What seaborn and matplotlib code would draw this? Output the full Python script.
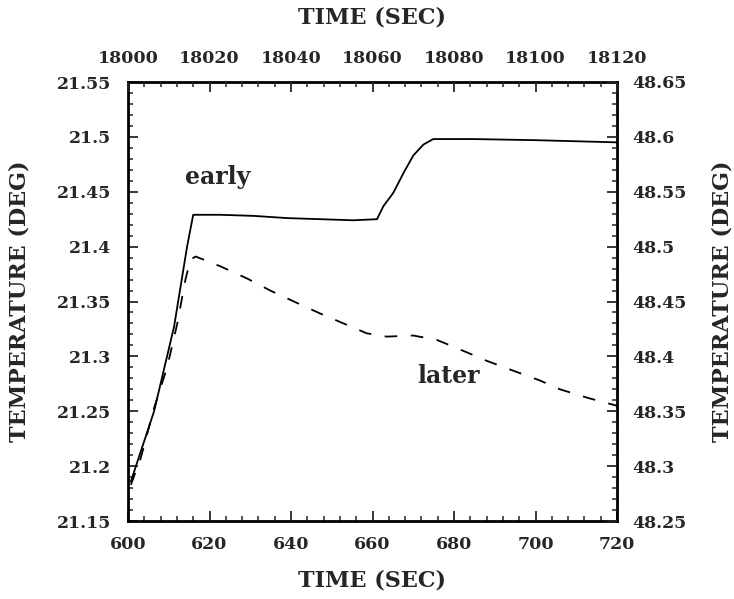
import matplotlib
matplotlib.use("Agg")
import matplotlib.pyplot as plt
import seaborn as sns
import pandas as pd
from matplotlib.ticker import MultipleLocator, FixedLocator, FixedFormatter

# ---- data ----
early_time = [600.7, 606.4, 611.3, 614.5, 616.0, 622.7, 630.9, 639.0, 647.2, 655.3,
              661.1, 662.7, 665.1, 667.6, 670.0, 672.5, 674.9, 685.0, 700.0, 710.0, 720.0]
early_temp = [21.186, 21.250, 21.327, 21.400, 21.429, 21.429, 21.428, 21.426, 21.425, 21.424,
              21.425, 21.437, 21.449, 21.467, 21.483, 21.493, 21.498, 21.498, 21.497, 21.496, 21.495]

later_time = [18000.7, 18003.1, 18006.4, 18009.6, 18012.1, 18014.1, 18015.3, 18016.6, 18022.7,
              18029.2, 18034.9, 18040.7, 18047.2, 18052.9, 18058.6, 18063.5, 18070.0, 18075.8,
              18082.3, 18088.0, 18094.5, 18101.1, 18106.0, 18113.0, 18120.0]
later_temp = [48.283, 48.307, 48.353, 48.390, 48.430, 48.470, 48.488, 48.491, 48.482,
              48.471, 48.460, 48.450, 48.439, 48.430, 48.421, 48.418, 48.419, 48.415,
              48.405, 48.396, 48.387, 48.378, 48.370, 48.362, 48.355]

bottom_ticks = [600, 620, 640, 660, 680, 700, 720]
top_ticks = [18000, 18020, 18040, 18060, 18080, 18100, 18120]
left_ticks = [21.15, 21.2, 21.25, 21.3, 21.35, 21.4, 21.45, 21.5, 21.55]
left_labels = ["21.15", "21.2", "21.25", "21.3", "21.35", "21.4", "21.45", "21.5", "21.55"]
right_ticks = [48.25, 48.3, 48.35, 48.4, 48.45, 48.5, 48.55, 48.6, 48.65]
right_labels = ["48.25", "48.3", "48.35", "48.4", "48.45", "48.5", "48.55", "48.6", "48.65"]

sns.set_theme(style="ticks")
plt.rcParams["font.family"] = ["DejaVu Serif", "Liberation Serif"]
plt.rcParams["font.weight"] = "bold"

W, H = 734, 599
fig = plt.figure(figsize=(W / 100, H / 100), dpi=100)
L, R, T, B = 128, 617, 82, 521
ax = fig.add_axes([L / W, 1 - B / H, (R - L) / W, (B - T) / H])

df_e = pd.DataFrame({"t": early_time, "T": early_temp})
df_l = pd.DataFrame({"t": later_time, "T": later_temp})

sns.lineplot(data=df_e, x="t", y="T", ax=ax, color="black", linewidth=1.3)

ax2 = fig.add_axes(ax.get_position(), frameon=False)
sns.lineplot(data=df_l, x="t", y="T", ax=ax2, color="black", linewidth=1.3,
             linestyle=(0, (7, 7.5)))

ax.set_xlim(600, 720)
ax.set_ylim(21.15, 21.55)
ax2.set_xlim(18000, 18120)
ax2.set_ylim(48.25, 48.65)

ax2.xaxis.tick_top()
ax2.xaxis.set_label_position("top")
ax2.yaxis.tick_right()
ax2.yaxis.set_label_position("right")

fs = 12.5
ax.xaxis.set_major_locator(FixedLocator(bottom_ticks))
ax.xaxis.set_minor_locator(MultipleLocator(4))
ax.yaxis.set_major_locator(FixedLocator(left_ticks))
ax.yaxis.set_major_formatter(FixedFormatter(left_labels))
ax.yaxis.set_minor_locator(MultipleLocator(0.01))
ax2.xaxis.set_major_locator(FixedLocator(top_ticks))
ax2.xaxis.set_minor_locator(MultipleLocator(4))
ax2.yaxis.set_major_locator(FixedLocator(right_ticks))
ax2.yaxis.set_major_formatter(FixedFormatter(right_labels))
ax2.yaxis.set_minor_locator(MultipleLocator(0.01))

for a in (ax, ax2):
    a.tick_params(which="major", direction="in", length=7, width=1.3, labelsize=fs)
    a.tick_params(which="minor", direction="in", length=3.5, width=1.1)
ax.tick_params(top=False, right=False, which="both")
ax.tick_params(axis="y", which="major", pad=12)
ax.tick_params(axis="x", which="major", pad=11)
ax2.tick_params(top=True, right=True, bottom=False, left=False, which="both",
                labeltop=True, labelright=True, labelbottom=False, labelleft=False)
ax2.tick_params(axis="x", which="major", pad=11)
ax2.tick_params(axis="y", which="major", pad=11)

for s in ax.spines.values():
    s.set_linewidth(2.0)
    s.set_color("black")

lfs = 16
ax.set_xlabel("TIME (SEC)", fontsize=lfs, fontweight="bold")
ax.set_ylabel("TEMPERATURE (DEG)", fontsize=lfs, fontweight="bold")
ax2.set_xlabel("TIME (SEC)", fontsize=lfs, fontweight="bold")
ax2.set_ylabel("TEMPERATURE (DEG)", fontsize=lfs, fontweight="bold", rotation=90)

# place axis titles (axes-fraction coordinates)
aw, ah = R - L, B - T
ax.xaxis.set_label_coords(0.5, -(580 - B) / ah)
ax.xaxis.label.set_va("center")
ax2.xaxis.set_label_coords(0.5, 1 + (T - 18) / ah)
ax2.xaxis.label.set_va("center")
ax.yaxis.set_label_coords(-(L - 20) / aw, 0.5)
ax.yaxis.label.set_va("center")
ax2.yaxis.set_label_coords(1 + (722 - R) / aw, 0.5)
ax2.yaxis.label.set_va("center")

ax.text(614, 21.457, "early", fontsize=17, fontweight="bold", ha="left", va="baseline")
ax.text(671, 21.276, "later", fontsize=17, fontweight="bold", ha="left", va="baseline")

fig.savefig("out.png", dpi=100, facecolor="white")
